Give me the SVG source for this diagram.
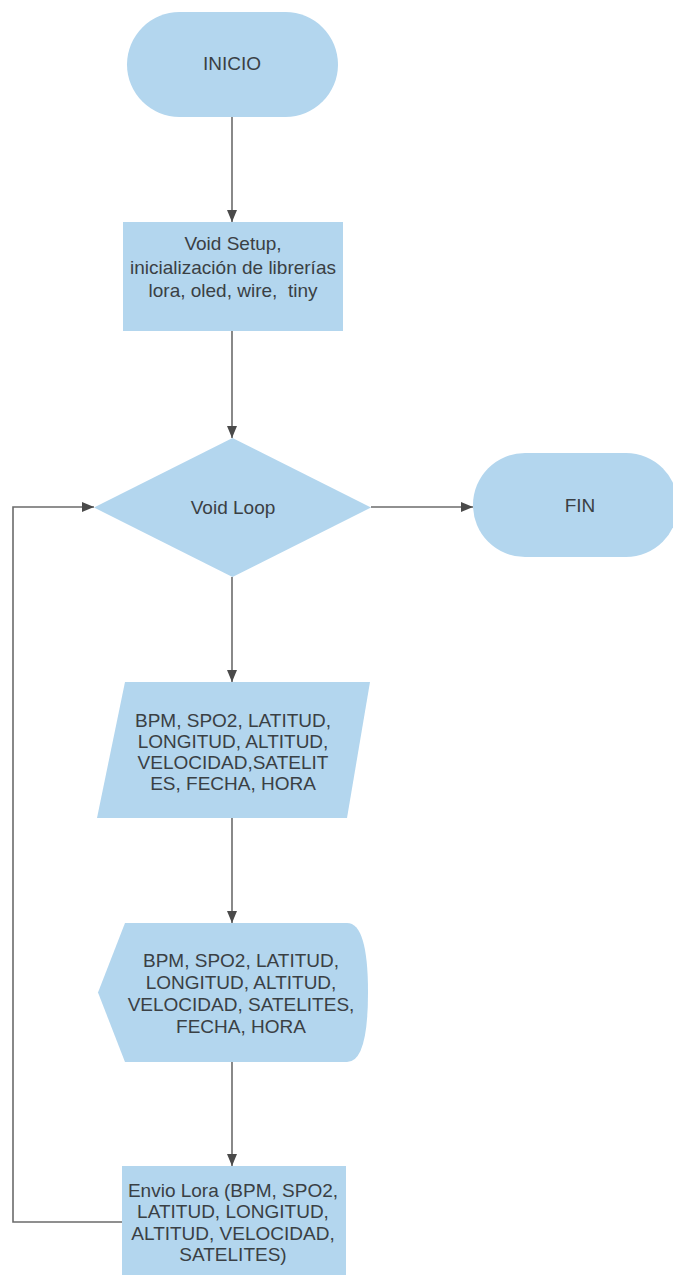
<svg xmlns="http://www.w3.org/2000/svg" width="673" height="1275" viewBox="0 0 673 1275">
<style>
.shape{fill:#b3d6ee;stroke:none}
.lbl{font-family:"Liberation Sans",Arial,sans-serif;font-size:19px;fill:#3a4044;text-anchor:middle}
.edge{fill:none;stroke:#6b6b6b;stroke-width:1.6}
</style>
<defs>
<marker id="arr" viewBox="0 0 12 10" refX="12" refY="5" markerWidth="12" markerHeight="10" markerUnits="userSpaceOnUse" orient="auto">
<path d="M0,0 L12,5 L0,10 Z" fill="#4a4a4a"/>
</marker>
</defs>
<rect width="673" height="1275" fill="#ffffff"/>
<g id="connectors">
<path class="edge" d="M232,117 L232,222" marker-end="url(#arr)"/>
<path class="edge" d="M232,331 L232,438" marker-end="url(#arr)"/>
<path class="edge" d="M371,507 L473,507" marker-end="url(#arr)"/>
<path class="edge" d="M232,577 L232,682" marker-end="url(#arr)"/>
<path class="edge" d="M232,818 L232,923" marker-end="url(#arr)"/>
<path class="edge" d="M232,1062 L232,1166" marker-end="url(#arr)"/>
<path class="edge" d="M122,1222 L13,1222 L13,507 L94,507" marker-end="url(#arr)"/>
</g>
<g id="inicio">
<rect class="shape" x="127" y="12" width="211" height="105" rx="52.5" ry="52.5"/>
<text class="lbl" x="232" y="70">INICIO</text>
</g>
<g id="setup">
<rect class="shape" x="123" y="222" width="220" height="109"/>
<text class="lbl" x="233" y="250">Void Setup,</text>
<text class="lbl" x="233" y="274">inicialización de librerías</text>
<text class="lbl" x="233" y="297" xml:space="preserve">lora, oled, wire,  tiny</text>
</g>
<g id="loop">
<polygon class="shape" points="232.5,438 371,507.5 232.5,577 94,507.5"/>
<text class="lbl" x="233" y="514">Void Loop</text>
</g>
<g id="fin">
<rect class="shape" x="473" y="453" width="205" height="104" rx="52" ry="52"/>
<text class="lbl" x="580" y="512">FIN</text>
</g>
<g id="input">
<polygon class="shape" points="125,682 370,682 347,818 97,818"/>
<text class="lbl" x="233" y="727">BPM, SPO2, LATITUD,</text>
<text class="lbl" x="233" y="748">LONGITUD, ALTITUD,</text>
<text class="lbl" x="233" y="769">VELOCIDAD,SATELIT</text>
<text class="lbl" x="233" y="790">ES, FECHA, HORA</text>
</g>
<g id="display">
<path class="shape" d="M125,923 L347,923 Q368,923 368,992.5 Q368,1062 347,1062 L125,1062 L98,992.5 Z"/>
<text class="lbl" x="241" y="967">BPM, SPO2, LATITUD,</text>
<text class="lbl" x="241" y="989">LONGITUD, ALTITUD,</text>
<text class="lbl" x="241" y="1011">VELOCIDAD, SATELITES,</text>
<text class="lbl" x="241" y="1033">FECHA, HORA</text>
</g>
<g id="envio">
<rect class="shape" x="122" y="1166" width="224" height="115"/>
<text class="lbl" x="233" y="1197">Envio Lora (BPM, SPO2,</text>
<text class="lbl" x="233" y="1218">LATITUD, LONGITUD,</text>
<text class="lbl" x="233" y="1240">ALTITUD, VELOCIDAD,</text>
<text class="lbl" x="233" y="1261">SATELITES)</text>
</g>
</svg>
